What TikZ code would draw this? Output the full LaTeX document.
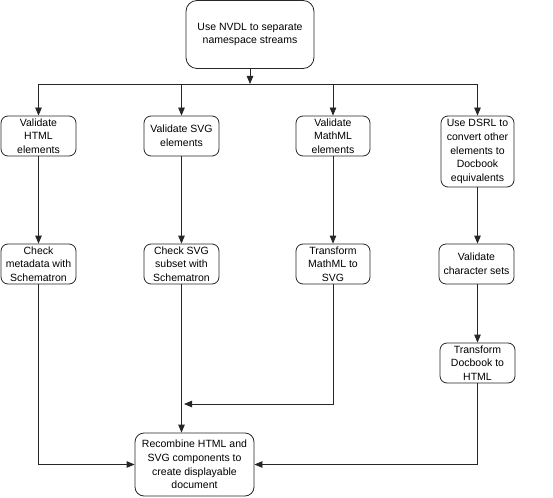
\documentclass[tikz,border=0pt]{standalone}
\usepackage{fontspec}
\setmainfont{Liberation Sans}
\usetikzlibrary{arrows.meta}
\begin{document}
\begin{tikzpicture}[x=1pt,y=-1pt,
  box/.style={draw=black!85,line width=0.8pt,rounded corners=7pt,align=center,inner sep=0pt,
    font=\fontsize{10.5}{13.7}\selectfont,minimum height=40pt,minimum width=75pt},
  arr/.style={draw=black!85,line width=0.8pt,-{Triangle[length=8pt,width=6.5pt]}},
  ln/.style={draw=black!85,line width=0.8pt}]
\useasboundingbox (0,0) rectangle (553,497);
\node[box,minimum width=128pt,minimum height=68pt,rounded corners=11pt] (top) at (250,34.5) {Use NVDL to separate\\namespace streams};
\node[box] (b1) at (38.5,136) {Validate\\HTML\\elements};
\node[box] (b2) at (181.5,136) {Validate SVG\\elements};
\node[box,minimum width=74pt] (b3) at (333,136) {Validate\\MathML\\elements};
\node[box,minimum width=73pt,minimum height=71pt] (b4) at (477.5,151.5) {Use DSRL to\\convert other\\elements to\\Docbook\\equivalents};
\node[box] (b5) at (38.5,264) {Check\\metadata with\\Schematron};
\node[box] (b6) at (181.5,264) {Check SVG\\subset with\\Schematron};
\node[box,minimum width=74pt] (b7) at (333,264) {Transform\\MathML to\\SVG};
\node[box] (b8) at (476.5,264) {Validate\\character sets};
\node[box] (b9) at (477.5,363) {Transform\\Docbook to\\HTML};
\node[box,minimum width=119pt,minimum height=63pt,rounded corners=9pt] (bot) at (194.5,464.5) {Recombine HTML and\\SVG components to\\create displayable\\document};
\coordinate (hj) at (250,84);
\coordinate (mj) at (184,404);
\draw[arr] (top.south) -- (hj);
\draw[ln] (b1.north |- hj) -- (b4.north |- hj);
\draw[arr] (b1.north |- hj) -- (b1.north);
\draw[arr] (b2.north |- hj) -- (b2.north);
\draw[arr] (b3.north |- hj) -- (b3.north);
\draw[arr] (b4.north |- hj) -- (b4.north);
\draw[arr] (b1.south) -- (b5.north);
\draw[arr] (b2.south) -- (b6.north);
\draw[arr] (b3.south) -- (b7.north);
\draw[arr] (b4.south) -- (b4.south |- b8.north);
\draw[arr] (b8.south -| b9.north) -- (b9.north);
\draw[arr] (b6.south) -- (b6.south |- bot.north);
\draw[arr] (b7.south) |- (mj);
\draw[arr] (b5.south) |- (bot.west);
\draw[arr] (b9.south) |- (bot.east);
\end{tikzpicture}
\end{document}
